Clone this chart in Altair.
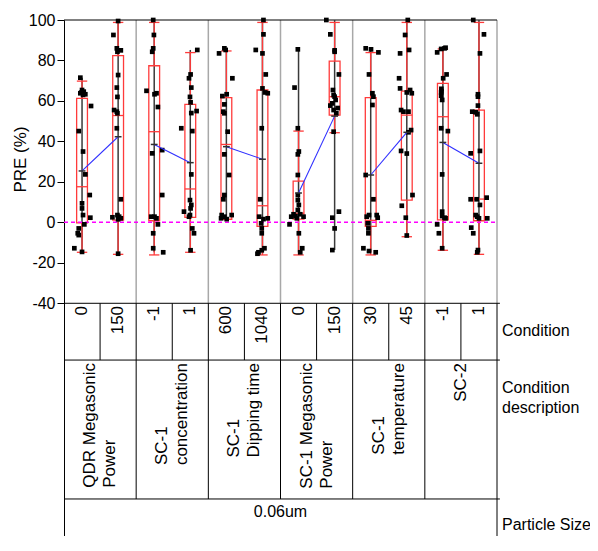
import altair as alt
import pandas as pd

# ---------------- data ----------------
conditions = ["0", "150", "-1", "1", "600", "1040", "0", "150", "30", "45", "-1", "1"]
descriptions = ["QDR Megasonic\nPower", "SC-1\nconcentration", "SC-1\nDipping time",
                "SC-1 Megasonic\nPower", "SC-1\ntemperature", "SC-2"]
particle_size = "0.06um"
row_titles = ["Condition", "Condition\ndescription", "Particle Size"]
y_ticks = [-40, -20, 0, 20, 40, 60, 80, 100]

# PRE (%) per wafer, and horizontal jitter (px) of each point
g01_pre = [71.5, 65.4, 64.6, 63.8, 63.3, 63.0, 64.2, 57.5, 45.1, 35.0, 23.7, 13.5, 9.4, 6.9, 3.6, 2.3, -1.0, -3.0, -5.4, -6.3, -12.8, -14.6]
g01_jit = [-1.7, 0.0, 1.7, -1.7, 3.3, 1.0, -0.5, 9.0, -3.3, 1.0, 3.3, 7.7, 0.0, 0.0, 1.0, 8.3, 2.3, -3.3, -4.3, -3.3, -7.7, 0.0]
g02_pre = [99.5, 92.6, 86.0, 85.0, 84.3, 72.8, 66.6, 62.0, 55.5, 54.7, 53.9, 46.5, 11.4, 3.6, 2.5, 2.8, 2.0, 1.5, -15.5]
g02_jit = [0.0, -4.7, -1.3, 2.7, -0.7, 0.0, -1.3, -0.7, -4.0, -1.3, -0.7, -1.3, 2.7, -0.7, -5.7, 1.0, 2.7, 0.0, 0.0]
g03_pre = [100.0, 92.6, 86.0, 84.3, 65.0, 63.3, 63.8, 57.0, 34.1, 35.7, 13.5, 2.8, 2.8, 2.0, -1.0, -5.4, -12.8, -14.8]
g03_jit = [-1.0, -0.3, -1.0, -2.0, -7.7, 0.3, 2.3, 3.7, -2.0, 8.0, 8.0, -3.0, 0.3, 2.3, 3.7, -1.0, -1.0, 9.0]
g04_pre = [85.2, 73.1, 71.2, 66.6, 62.0, 59.3, 55.0, 54.0, 46.5, 45.1, 23.7, 11.0, 8.6, 6.9, 5.3, 3.6, 2.8, -3.0, -5.4, -13.8]
g04_jit = [7.0, 0.3, -1.3, 1.0, -0.3, 0.3, 6.3, 1.0, -9.0, 2.0, 1.0, -0.3, 1.0, 0.3, -6.3, -0.3, -1.3, 2.0, 3.7, 0.3]
g05_pre = [86.0, 83.5, 85.2, 71.2, 62.4, 63.3, 58.3, 54.7, 53.9, 44.8, 33.6, 23.4, 11.4, 13.5, 3.6, 2.8, 3.6, 2.0, 1.6]
g05_jit = [-2.0, -7.3, -0.7, 6.0, -4.0, 0.3, -2.0, -3.0, -2.0, 1.3, -2.0, 2.7, -3.0, -2.0, -4.7, -2.0, 5.3, -5.3, 0.3]
g06_pre = [100.0, 92.9, 85.2, 83.5, 73.1, 66.2, 64.2, 63.8, 46.5, 11.4, 2.8, 1.6, 2.0, -0.5, -3.0, -5.4, -12.8, -14.8, -13.8, -15.5]
g06_jit = [1.0, 1.0, -6.7, 0.0, 3.3, 0.0, 2.7, 5.3, -0.7, -2.3, -3.3, 1.0, 5.3, -1.3, -0.7, -0.7, 2.0, -4.0, -0.7, -5.0]
g07_pre = [85.5, 66.6, 46.5, 35.0, 33.6, 23.4, 13.5, 11.0, 8.6, 6.1, 4.0, 3.1, 4.0, 2.8, 2.8, 2.0, -1.0, -5.4, -12.8, -14.8]
g07_jit = [-0.7, -4.0, -0.7, 0.3, -0.7, -0.7, -0.7, -0.7, 0.3, -0.7, -5.0, -3.0, 1.7, 5.0, -7.3, -1.7, -9.0, 0.3, 3.7, 1.7]
g08_pre = [100.0, 92.9, 85.0, 84.3, 73.1, 65.4, 62.9, 62.1, 60.5, 58.8, 57.7, 56.5, 55.5, 53.9, 44.8, 5.3, 2.3, -3.0, -13.7]
g08_jit = [-8.3, -4.3, 0.0, 0.0, 4.3, -1.7, -1.0, 0.0, 1.0, -2.3, -4.3, 3.0, -1.0, 1.7, -1.0, 4.3, -2.3, 0.0, -2.3]
g09_pre = [86.0, 85.5, 84.0, 73.1, 63.8, 62.1, 58.0, 23.4, 11.4, 2.8, 3.6, 3.6, 2.3, -0.5, -3.0, -5.4, -12.8, -14.2, -14.8]
g09_jit = [-5.0, 0.3, 7.7, -1.7, 1.7, 2.7, 1.7, -5.0, 2.7, -4.0, -1.7, 6.0, 7.0, -3.0, -2.3, -2.3, -7.3, -1.7, 5.0]
g10_pre = [100.0, 92.6, 85.2, 83.5, 71.2, 66.2, 65.4, 64.2, 63.8, 55.5, 54.7, 54.7, 45.6, 44.5, 35.3, 34.0, 13.5, 8.2, 2.3, -6.5]
g10_jit = [1.0, -1.7, 2.3, -6.7, -7.7, -6.7, 3.3, 0.0, 5.0, -5.7, -3.3, 1.7, 4.3, 1.7, -5.7, 0.0, 5.7, -5.0, -1.0, 0.0]
g11_pre = [84.0, 85.7, 86.0, 86.3, 73.1, 71.2, 66.0, 64.8, 64.2, 62.6, 60.5, 46.5, 45.1, 23.7, 5.3, 3.1, 2.3, 2.0, -1.0, -5.4, -12.8]
g11_jit = [-5.7, -1.7, 1.7, 2.7, 3.7, 0.3, -1.5, -1.5, -1.7, -1.7, -0.7, -1.7, 5.0, -0.7, -0.7, -0.7, 1.7, 2.7, -5.7, -4.0, -0.7]
g12_pre = [100.0, 92.9, 83.5, 63.3, 62.1, 57.7, 54.7, 54.4, 53.4, 35.3, 34.1, 12.2, 11.4, 11.4, 8.6, 3.6, 2.8, 2.0, 2.0, -2.6, -5.4, -13.7, -14.8]
g12_jit = [-5.7, 5.0, 1.0, -1.0, -1.0, -1.0, -6.7, -3.3, -1.7, 1.0, -8.3, 7.7, -8.3, -2.3, 1.0, -3.3, -1.7, 0.0, 8.3, -7.7, -5.7, -1.0, -1.7]

q1 = [-0.3, 1.1, 0.8, 2.5, 1.5, -2.0, 1.6, 53.0, -2.0, 11.0, 1.2, 0.8]
median = [17.6, 52.8, 44.8, 16.5, 38.5, 8.2, 4.5, 62.1, 1.0, 53.0, 52.2, 11.5]
q3 = [61.3, 82.4, 77.4, 58.3, 61.6, 65.4, 20.4, 79.7, 61.6, 64.9, 68.7, 55.5]
whisk_lo = [-14.8, -15.8, -16.1, -14.8, 1.5, -16.1, -16.1, 44.3, -16.1, -7.1, -13.8, -15.8]
whisk_hi = [69.8, 98.8, 98.8, 83.9, 84.7, 98.8, 45.1, 98.8, 83.9, 98.8, 85.7, 98.8]
means = [25.4, 42.3, 38.5, 29.5, 37.4, 31.2, 14.5, 52.5, 23.4, 44.5, 39.5, 29.2]

# ---------------- layout ----------------
W, H = 433, 516
YMIN, YMAX = -155, 100
NG = len(conditions)
PXX = W / NG
PXY = H / (YMAX - YMIN)
ROW1, ROW2, ROW3 = -40, -68.05, -136.7
RED = "#ff3b3b"
FONT = "Liberation Sans"
LH = 20  # line height of multi-line labels (px)

groups_pre = [g01_pre, g02_pre, g03_pre, g04_pre, g05_pre, g06_pre,
              g07_pre, g08_pre, g09_pre, g10_pre, g11_pre, g12_pre]
groups_jit = [g01_jit, g02_jit, g03_jit, g04_jit, g05_jit, g06_jit,
              g07_jit, g08_jit, g09_jit, g10_jit, g11_jit, g12_jit]

pts = []
for i, (vals, jits) in enumerate(zip(groups_pre, groups_jit)):
    for v, j in zip(vals, jits):
        pts.append({"g": i, "xc": i + 0.5, "x": i + 0.5 + j / PXX, "pre": v})
pts = pd.DataFrame(pts)

bw, cw, mw = 5.4 / PXX, 5.2 / PXX, 3.4 / PXX
stats = pd.DataFrame({
    "g": range(NG), "panel": [i // 2 for i in range(NG)],
    "xc": [i + 0.5 for i in range(NG)],
    "xl": [i + 0.5 - bw for i in range(NG)], "xr": [i + 0.5 + bw for i in range(NG)],
    "cl": [i + 0.5 - cw for i in range(NG)], "cr": [i + 0.5 + cw for i in range(NG)],
    "ml": [i + 0.5 - mw for i in range(NG)], "mr": [i + 0.5 + mw for i in range(NG)],
    "q1": q1, "med": median, "q3": q3, "wlo": whisk_lo, "whi": whisk_hi, "mean": means,
})

xsc = alt.Scale(domain=[0, NG], nice=False, zero=False)
ysc = alt.Scale(domain=[YMIN, YMAX], nice=False, zero=False)
yax = alt.Axis(values=y_ticks, grid=False, domainColor="black", tickColor="black",
               tickSize=7, labelFontSize=16, labelFont=FONT, labelColor="black",
               labelPadding=2, labelFlush=False, labelExpr="'' + datum.value",
               title="PRE (%)", titleFontSize=17,
               titleFont=FONT, titleFontWeight="normal", titleColor="black",
               titleAngle=270, titleX=-44, titleY=139, titleAlign="center",
               titleBaseline="middle")


def X(f):
    return alt.X(f, type="quantitative", scale=xsc, axis=None)


def Y(f):
    return alt.Y(f, type="quantitative", scale=ysc, axis=yax)


# panel separators (gray) in plot area
seps = pd.DataFrame({"x": [2 * k for k in range(1, NG // 2 + 1)], "y0": ROW1, "y1": YMAX})
sep_layer = alt.Chart(seps).mark_rule(color="#a8a8a8", strokeWidth=1.5).encode(
    x=X("x"), y=Y("y0"), y2="y1")

# table grid and frame lines
segs = [(0, NG, YMAX, YMAX), (0, NG + 0.08, ROW1, ROW1), (0, NG + 0.08, ROW2, ROW2),
        (0, NG + 0.08, ROW3, ROW3), (NG, NG, ROW1, YMIN)]
segs += [(k, k, ROW1, ROW2) for k in range(1, NG)]
segs += [(k, k, ROW2, ROW3) for k in range(2, NG, 2)]
segs = pd.DataFrame(segs, columns=["x", "x2", "y", "y2"])
grid_layer = alt.Chart(segs).mark_rule(color="black", strokeWidth=1).encode(
    x=X("x"), x2="x2", y=Y("y"), y2="y2")

# black range line (min to max of points)
range_layer = alt.Chart(pts).transform_aggregate(
    lo="min(pre)", hi="max(pre)", groupby=["g", "xc"]
).mark_rule(color="#3a3a3a", strokeWidth=1.5).encode(x=X("xc"), y=Y("lo"), y2="hi")

base = alt.Chart(stats)
box = base.mark_rect(fillOpacity=0, stroke=RED, strokeWidth=1.3).encode(
    x=X("xl"), x2="xr", y=Y("q1"), y2="q3")
med = base.mark_rule(color=RED, strokeWidth=1.3).encode(x=X("xl"), x2="xr", y=Y("med"))
wh_hi = base.mark_rule(color=RED, strokeWidth=1.3).encode(x=X("xc"), y=Y("q3"), y2="whi")
wh_lo = base.mark_rule(color=RED, strokeWidth=1.3).encode(x=X("xc"), y=Y("wlo"), y2="q1")
cap_hi = base.mark_rule(color=RED, strokeWidth=1.3).encode(x=X("cl"), x2="cr", y=Y("whi"))
cap_lo = base.mark_rule(color=RED, strokeWidth=1.3).encode(x=X("cl"), x2="cr", y=Y("wlo"))

zero = pd.DataFrame({"x": [0], "x2": [NG], "y": [0]})
zero_layer = alt.Chart(zero).mark_rule(color="#ff00ff", strokeWidth=1.5, strokeDash=[4, 3]).encode(
    x=X("x"), x2="x2", y=Y("y"))

points = alt.Chart(pts).mark_square(size=22, color="black", opacity=1).encode(
    x=X("x"), y=Y("pre"))

mean_line = base.mark_line(color="#2f2fff", strokeWidth=1.1).encode(
    x=X("xc"), y=Y("mean"), detail="panel:N")
mean_tick = base.mark_rule(color="#303030", strokeWidth=1.5).encode(
    x=X("ml"), x2="mr", y=Y("mean"))

# table texts
cond_df = pd.DataFrame({"x": [i + 0.5 for i in range(NG)], "y": ROW1 - 1.3, "t": conditions})
cond_text = alt.Chart(cond_df).mark_text(angle=270, align="right", baseline="middle",
                                         fontSize=17, font=FONT, color="black").encode(
    x=X("x"), y=Y("y"), text="t:N")

AW = {' ': 278, '-': 333, '1': 556, '2': 556, 'C': 722, 'D': 722, 'M': 833, 'P': 667,
      'Q': 778, 'R': 722, 'S': 667, 'a': 556, 'c': 500, 'e': 556, 'g': 556, 'i': 222,
      'm': 833, 'n': 556, 'o': 556, 'p': 556, 'r': 333, 's': 500, 't': 278, 'u': 556, 'w': 722}


def textlen(s, fs):
    return sum(AW.get(c, 556) for c in s) * fs / 1000.0


desc_y = [ROW2 - (3 + max(textlen(l, 17) for l in d.split("\n"))) / PXY for d in descriptions]
desc_x = [2 * k + 1 - (d.count("\n") * LH / 2) / PXX for k, d in enumerate(descriptions)]
desc_df = pd.DataFrame({"x": desc_x, "y": desc_y, "t": descriptions})
desc_text = alt.Chart(desc_df).mark_text(angle=270, align="left", baseline="middle",
                                         fontSize=17, font=FONT, color="black",
                                         lineBreak="\n", lineHeight=LH).encode(
    x=X("x"), y=Y("y"), text="t:N")

ps_df = pd.DataFrame({"x": [NG / 2], "y": [(222.35 - 512) / PXY], "t": [particle_size]})
ps_text = alt.Chart(ps_df).mark_text(align="center", baseline="middle", fontSize=16,
                                     font=FONT, color="black").encode(
    x=X("x"), y=Y("y"), text="t:N")

rt_df = pd.DataFrame({"y": [(222.35 - 331) / PXY, (222.35 - 388) / PXY,
                            (222.35 - 525) / PXY], "t": row_titles})
rt_df["x"] = NG + (502 - 497) / PXX
rt_text = alt.Chart(rt_df).mark_text(align="left", baseline="middle", fontSize=16,
                                     font=FONT, color="black", lineBreak="\n",
                                     lineHeight=LH).encode(
    x=X("x"), y=Y("y"), text="t:N")

chart = alt.layer(
    sep_layer, grid_layer, range_layer, box, med, wh_hi, wh_lo, cap_hi, cap_lo,
    zero_layer, points, mean_line, mean_tick, cond_text, desc_text, ps_text, rt_text
).properties(
    width=W, height=H,
    autosize=alt.AutoSizeParams(type="none"),
    padding={"left": 56, "top": 12, "right": 93, "bottom": 0},
    background="white",
).configure_view(strokeWidth=0)

chart.save("out.html", embed_options={"renderer": "svg", "actions": False})
